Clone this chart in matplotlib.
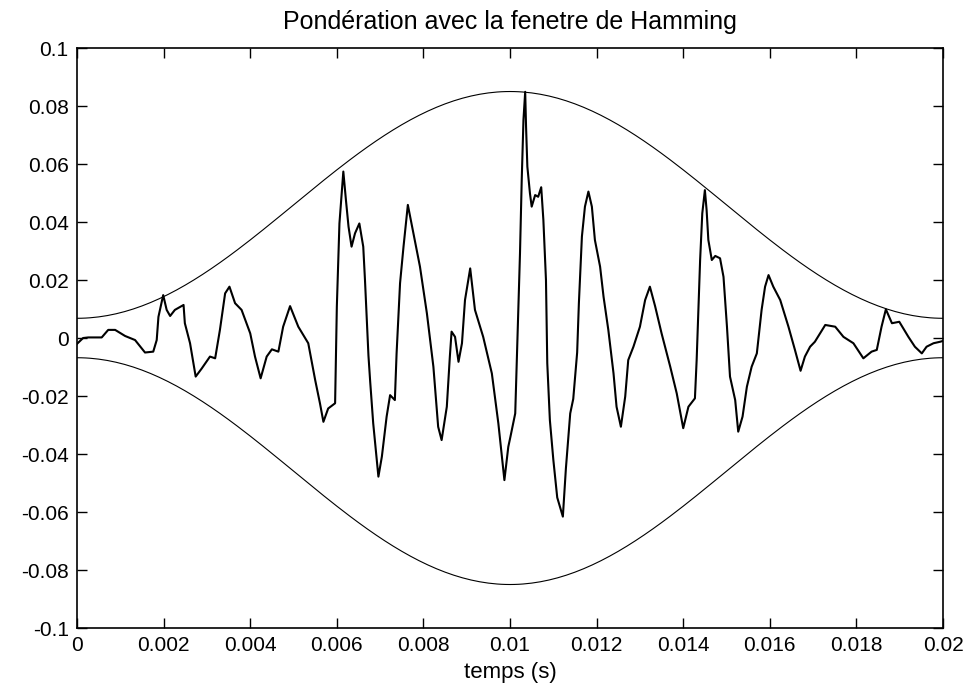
import numpy as np
import matplotlib
matplotlib.use("Agg")
import matplotlib.pyplot as plt

plt.rcParams['font.family'] = ['Liberation Sans Narrow', 'Liberation Sans', 'DejaVu Sans']

title = "Pondération avec la fenetre de Hamming"
xlabel = "temps (s)"

# weighted signal, time in ms
t_ms = [0.00, 0.14, 0.26, 0.57, 0.72, 0.88, 1.11, 1.34, 1.57, 1.76, 1.84, 1.88, 1.99, 2.07, 2.15,
        2.26, 2.46, 2.49, 2.61, 2.74, 2.88, 3.07, 3.19, 3.30, 3.42, 3.52, 3.65, 3.80, 4.00,
        4.11, 4.24, 4.38, 4.50, 4.65, 4.76, 4.92, 5.11, 5.34, 5.50, 5.61, 5.69, 5.80, 5.96,
        6.00, 6.06, 6.15, 6.21, 6.27, 6.34, 6.42, 6.52, 6.61, 6.65, 6.73, 6.77, 6.84, 6.96,
        7.04, 7.15, 7.23, 7.34, 7.38, 7.46, 7.54, 7.64, 7.77, 7.92, 8.08, 8.23, 8.34, 8.42,
        8.54, 8.61, 8.65, 8.73, 8.81, 8.89, 8.96, 9.08, 9.19, 9.38, 9.58, 9.73, 9.87, 9.96,
        10.01, 10.12, 10.19, 10.23, 10.27, 10.31, 10.35, 10.37, 10.40, 10.46, 10.50, 10.58,
        10.65, 10.72, 10.77, 10.83, 10.86, 10.92, 11.00, 11.09, 11.22, 11.29, 11.39, 11.46,
        11.55, 11.59, 11.66, 11.73, 11.81, 11.89, 11.96, 12.08, 12.16, 12.27, 12.39, 12.46,
        12.56, 12.66, 12.73, 12.85, 13.00, 13.12, 13.23, 13.35, 13.50, 13.70, 13.85, 14.00,
        14.12, 14.27, 14.31, 14.39, 14.44, 14.50, 14.54, 14.58, 14.66, 14.74, 14.85, 14.93,
        15.01, 15.08, 15.20, 15.27, 15.37, 15.47, 15.58, 15.70, 15.81, 15.89, 15.97, 16.08,
        16.24, 16.43, 16.58, 16.71, 16.81, 16.93, 17.04, 17.28, 17.51, 17.70, 17.93, 18.16,
        18.35, 18.47, 18.58, 18.68, 18.82, 18.99, 19.20, 19.35, 19.51, 19.62, 19.78, 19.93, 20.00]
signal = [-0.0020, 0.0000, 0.0002, 0.0002, 0.0028, 0.0028, 0.0007, -0.0007, -0.0050, -0.0047,
          -0.0007, 0.0073, 0.0148, 0.0097, 0.0076, 0.0097, 0.0114, 0.0051, -0.0018, -0.0133,
          -0.0105, -0.0064, -0.0070, 0.0028, 0.0154, 0.0177, 0.0120, 0.0097, 0.0016, -0.0064,
          -0.0139, -0.0064, -0.0039, -0.0047, 0.0039, 0.0110, 0.0039, -0.0018, -0.0145, -0.0225,
          -0.0289, -0.0243, -0.0225, 0.0108, 0.0395, 0.0574, 0.0476, 0.0384, 0.0315, 0.0361,
          0.0395, 0.0315, 0.0200, -0.0060, -0.0150, -0.0294, -0.0478, -0.0409, -0.0271, -0.0197,
          -0.0214, -0.0053, 0.0189, 0.0315, 0.0459, 0.0361, 0.0246, 0.0085, -0.0099, -0.0306,
          -0.0352, -0.0237, -0.0064, 0.0022, 0.0004, -0.0082, -0.0018, 0.0131, 0.0240, 0.0097,
          0.0004, -0.0122, -0.0294, -0.0490, -0.0375, -0.0340, -0.0260, 0.0085, 0.0292, 0.0545,
          0.0752, 0.0849, 0.0729, 0.0591, 0.0499, 0.0453, 0.0493, 0.0487, 0.0520, 0.0407,
          0.0200, -0.0087, -0.0283, -0.0420, -0.0550, -0.0616, -0.0450, -0.0260, -0.0210, -0.0050,
          0.0120, 0.0350, 0.0453, 0.0505, 0.0453, 0.0338, 0.0246, 0.0142, 0.0028, -0.0122,
          -0.0237, -0.0306, -0.0202, -0.0076, -0.0030, 0.0039, 0.0131, 0.0177, 0.0110, 0.0016,
          -0.0099, -0.0191, -0.0311, -0.0237, -0.0208, -0.0076, 0.0269, 0.0430, 0.0510, 0.0441,
          0.0338, 0.0269, 0.0283, 0.0275, 0.0211, 0.0039, -0.0133, -0.0214, -0.0323, -0.0271,
          -0.0168, -0.0099, -0.0053, 0.0097, 0.0177, 0.0217, 0.0177, 0.0131, 0.0039, -0.0041,
          -0.0113, -0.0064, -0.0030, -0.0013, 0.0045, 0.0039, 0.0004, -0.0018, -0.0070, -0.0047,
          -0.0041, 0.0039, 0.0099, 0.0051, 0.0056, 0.0004, -0.0030, -0.0053, -0.0030, -0.0018,
          -0.0013, -0.0010]

# Hamming window envelope
env_peak = 0.085
env_n = 201
duration_s = 0.02

xticks = [0, 0.002, 0.004, 0.006, 0.008, 0.01, 0.012, 0.014, 0.016, 0.018, 0.02]
xticklabels = ["0", "0.002", "0.004", "0.006", "0.008", "0.01", "0.012", "0.014", "0.016", "0.018", "0.02"]
yticks = [-0.1, -0.08, -0.06, -0.04, -0.02, 0, 0.02, 0.04, 0.06, 0.08, 0.1]
yticklabels = ["-0.1", "-0.08", "-0.06", "-0.04", "-0.02", "0", "0.02", "0.04", "0.06", "0.08", "0.1"]

fig = plt.figure(figsize=(9.69, 6.88), dpi=100)
ax = fig.add_axes([0.0795, 0.0872, 0.8937, 0.843])

t = np.array(t_ms) * 1e-3
env_t = np.linspace(0, duration_s, env_n)
env = env_peak * np.hamming(env_n)

ax.plot(env_t, env, color='black', lw=0.8)
ax.plot(env_t, -env, color='black', lw=0.8)
ax.plot(t, signal, color='black', lw=1.5)

ax.set_xlim(0, 0.02)
ax.set_ylim(-0.1, 0.1)
ax.set_xticks(xticks)
ax.set_xticklabels(xticklabels)
ax.set_yticks(yticks)
ax.set_yticklabels(yticklabels)
ax.tick_params(direction='in', length=7, width=1, top=True, right=True, labelsize=15, pad=6)
for s in ax.spines.values():
    s.set_linewidth(1.2)
ax.set_title(title, fontsize=18, pad=14, family=['Liberation Sans', 'DejaVu Sans'])
ax.set_xlabel(xlabel, fontsize=16, labelpad=5)

fig.savefig("out.png", dpi=100)
